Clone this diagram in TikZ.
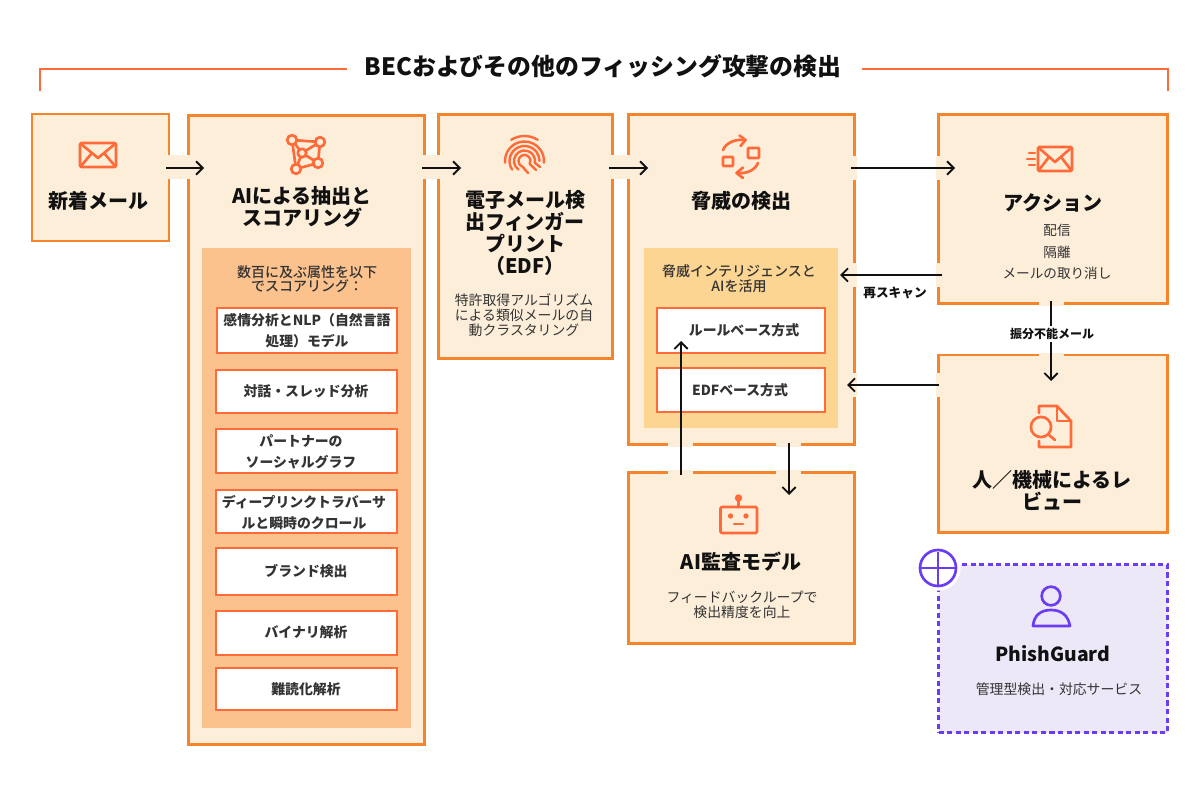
\documentclass[tikz,border=0pt]{standalone}
\usepackage{fontspec}
\setmainfont{Noto Sans CJK JP}
\newfontfamily\medf{Noto Sans CJK JP Medium}
\usetikzlibrary{arrows.meta}
\definecolor{bord}{HTML}{F6842A}
\definecolor{cream}{HTML}{FDEEDA}
\definecolor{peach}{HTML}{FBC28E}
\definecolor{sand}{HTML}{FCD592}
\definecolor{icon}{HTML}{FF6A39}
\definecolor{purp}{HTML}{6A3DF5}
\definecolor{lilac}{HTML}{EDE8F8}
\definecolor{ink}{HTML}{111111}
\definecolor{soft}{HTML}{333333}
\newcommand\hdf{\bfseries\fontsize{15}{16.5}\selectfont}
\newcommand\subf{\fontsize{10.4}{11.2}\selectfont}
\newcommand\itemf{\bfseries\fontsize{10.4}{15.8}\selectfont}
\newcommand\headf{\medf\fontsize{10.5}{11}\selectfont}
\tikzset{
  boxbase/.style={rectangle,inner sep=0pt,outer sep=0pt},
  outerbox/.style={boxbase,draw=bord,fill=cream,line width=1.9pt},
  peachbox/.style={boxbase,fill=peach},
  sandbox/.style={boxbase,fill=sand},
  whitebox/.style={boxbase,draw=icon,fill=white,line width=1.5pt},
  dashbox/.style={boxbase,draw=purp,fill=lilac,line width=1.9pt,dash pattern=on 3.8pt off 2.6pt},
  heading/.style={align=center,inner sep=0pt,text=ink,font=\hdf},
  subtext/.style={align=center,inner sep=0pt,text=soft,font=\subf},
  itemtext/.style={align=center,inner sep=0pt,text=soft,font=\itemf},
  headtext/.style={align=center,inner sep=0pt,text=soft,font=\headf},
  flow/.style={draw=ink,line width=1.35pt,-{Straight Barb[length=5pt,width=10pt,line width=1.35pt]}},
  patch/.style={fill=cream,draw=none},
  ic/.style={draw=icon,line width=2pt,line join=round,line cap=round},
  icf/.style={draw=icon,line width=1.8pt,line join=round,line cap=round},
  icp/.style={draw=purp,line width=2pt,line join=round,line cap=round},
}
\newcommand\bx[6]{\node[#6,minimum width={(#4-#2)*0.75pt},minimum height={(#5-#3)*0.75pt}] (#1) at ({(#2+#4)/2},{(#3+#5)/2}) {};}
\newcommand\tx[5]{\node[#4] (#1) at (#2,#3) {#5};}
\newcommand\pt[4]{\fill[patch] (#1,#2) rectangle (#3,#4);}
\newcommand\arcp[5]{\draw[icf] (#1,#2) ++(#4:#3*0.75pt) arc[start angle=#4,end angle=#5,radius=#3*0.75pt];}
\begin{document}
\begin{tikzpicture}[x=0.75pt,y=-0.75pt]
\useasboundingbox (0,0) rectangle (1200,796);
% title
\node[inner sep=0pt,text=ink,font=\bfseries\fontsize{17.9}{19}\selectfont] (title) at (603,66) {BECおよびその他のフィッシング攻撃の検出};
\coordinate (tl) at (40,91); \coordinate (tlc) at (40,69); \coordinate (tle) at (347,69);
\coordinate (tr) at (1168,91); \coordinate (trc) at (1168,69); \coordinate (tre) at (862,69);
\draw[icon,line width=1.2pt] (tl) -- (tlc) -- (tle);
\draw[icon,line width=1.2pt] (tr) -- (trc) -- (tre);
% boxes
\bx{mail}{32}{114}{169}{241}{outerbox}
\bx{ai}{188.5}{115.5}{424.5}{744.5}{outerbox}
\bx{edf}{438.5}{114.5}{612.5}{358.5}{outerbox}
\bx{threat}{628.5}{114.5}{854.5}{444.5}{outerbox}
\bx{action}{938.5}{114.5}{1167.5}{303.5}{outerbox}
\bx{review}{938.5}{355}{1167.5}{532.5}{outerbox}
\bx{audit}{628.5}{472.5}{854.5}{643.5}{outerbox}
\bx{phish}{938.5}{564.5}{1167.5}{732.5}{dashbox}
% inner panels
\bx{aipanel}{202}{248}{411}{728}{peachbox}
\bx{thpanel}{644}{248}{838}{428}{sandbox}
\bx{w1}{217}{307.5}{397}{352.5}{whitebox}
\bx{w2}{216}{369.5}{397}{412.5}{whitebox}
\bx{w3}{216}{428.5}{397}{472.5}{whitebox}
\bx{w4}{216}{489.5}{397}{532.5}{whitebox}
\bx{w5}{216}{547.5}{397}{594.5}{whitebox}
\bx{w6}{216}{610.5}{397}{654.5}{whitebox}
\bx{w7}{216}{667.5}{397}{709.5}{whitebox}
\bx{r1}{657}{307.5}{825}{352.5}{whitebox}
\bx{r2}{657}{367.5}{825}{411.5}{whitebox}
% patches at arrow crossings
\pt{166}{155}{190}{179}
\pt{422}{155}{441}{179}
\pt{609}{155}{631}{179}
\pt{851}{156}{857}{180}
\pt{936}{156}{941}{180}
\pt{838}{263}{857}{287}
\pt{936}{263}{941}{287}
\pt{838}{373}{857}{397}
\pt{936}{373}{941}{397}
\pt{1039}{302}{1064}{306}
\pt{1039}{353}{1064}{358}
\pt{668}{443}{693}{447}
\pt{668}{470}{693}{474}
\pt{776}{443}{801}{447}
\pt{776}{470}{801}{474}
% connector ends
\coordinate (a1s) at (166,168); \coordinate (a1e) at (204,168);
\coordinate (a2s) at (422,168); \coordinate (a2e) at (461,168);
\coordinate (a3s) at (609,168); \coordinate (a3e) at (648,168);
\coordinate (a4s) at (851,168); \coordinate (a4e) at (955,168);
\coordinate (a5s) at (942,275); \coordinate (a5e) at (840,275);
\coordinate (a6s) at (939,385); \coordinate (a6e) at (847,385);
\coordinate (a7s) at (1051,301); \coordinate (a7e) at (1051,381);
\coordinate (a8s) at (789,443); \coordinate (a8e) at (789,495);
\coordinate (a9s) at (681,475); \coordinate (a9e) at (681,341);
\draw[flow] (a1s) -- (a1e);
\draw[flow] (a2s) -- (a2e);
\draw[flow] (a3s) -- (a3e);
\draw[flow] (a4s) -- (a4e);
\draw[flow] (a5s) -- (a5e);
\draw[flow] (a6s) -- (a6e);
\draw[flow] (a7s) -- (a7e);
\draw[flow] (a8s) -- (a8e);
\draw[flow] (a9s) -- (a9e);
% labels
\node[inner sep=2pt,fill=white,text=ink,font=\bfseries\fontsize{9}{10}\selectfont] (lab2) at (1052,334) {振分不能メール};
\node[inner sep=0pt,text=ink,font=\bfseries\fontsize{9.5}{10}\selectfont] (lab1) at (895,293) {再スキャン};
% texts
\tx{tmail}{98}{201}{heading}{新着メール}
\tx{tai}{302}{207}{heading}{AIによる抽出と\\スコアリング}
\tx{tedf}{525}{233}{heading}{電子メール検\\出フィンガー\\プリント\\（EDF）}
\tx{tedfs}{524}{315}{subtext}{特許取得アルゴリズム\\による類似メールの自\\動クラスタリング}
\tx{tth}{741}{201}{heading}{脅威の検出}
\tx{tthh}{739}{279}{headtext}{脅威インテリジェンスと\\AIを活用}
\tx{tact}{1053}{203}{heading}{アクション}
\tx{tacts}{1057}{252}{subtext,font=\fontsize{10.2}{16.1}\selectfont}{配信\\隔離\\メールの取り消し}
\tx{trev}{1052}{490}{heading}{人／機械によるレ\\ビュー}
\tx{taud}{741}{562}{heading}{AI監査モデル}
\tx{tauds}{742}{605}{subtext}{フィードバックループで\\検出精度を向上}
\tx{tph}{1053}{654}{heading,font=\bfseries\fontsize{14.5}{16}\selectfont}{PhishGuard}
\tx{tphs}{1059}{689}{subtext}{管理型検出・対応サービス}
\tx{tpanel}{307}{279}{headtext}{数百に及ぶ属性を以下\\でスコアリング：}
\tx{tw1}{307}{331}{itemtext}{感情分析とNLP（自然言語\\処理）モデル}
\tx{tw2}{306}{391}{itemtext}{対話・スレッド分析}
\tx{tw3}{301}{452}{itemtext}{パートナーの\\ソーシャルグラフ}
\tx{tw4}{304}{513}{itemtext}{ディープリンクトラバーサ\\ルと瞬時のクロール}
\tx{tw5}{306}{571}{itemtext}{ブランド検出}
\tx{tw6}{306}{632}{itemtext}{バイナリ解析}
\tx{tw7}{306}{689}{itemtext}{難読化解析}
\tx{tr1}{744}{330}{itemtext}{ルールベース方式}
\tx{tr2}{740}{390}{itemtext}{EDFベース方式}
% icon: mail
\draw[ic,rounded corners=1pt] (80,143) rectangle (116,167);
\draw[ic] (81,144) -- (98,158) -- (115,144);
\draw[ic] (81,166) -- (92,153);
\draw[ic] (115,166) -- (104,153);
% icon: network
\draw[ic] (292,140) -- (320,142) -- (318,163) -- (296,169) -- cycle;
\draw[ic] (292,140) -- (302,153) -- (320,142) (302,153) -- (318,163) (302,153) -- (296,169);
\filldraw[ic,fill=cream] (292,140) circle[radius=3.6pt];
\filldraw[ic,fill=cream] (320,142) circle[radius=3.6pt];
\filldraw[ic,fill=cream] (302,153) circle[radius=3.2pt];
\filldraw[ic,fill=cream] (318,163) circle[radius=3.6pt];
\filldraw[ic,fill=cream] (296,169) circle[radius=3.6pt];
% icon: fingerprint
\arcp{524.5}{161}{25}{122}{58}
\arcp{524.5}{161}{19.5}{185}{-5}
\arcp{524.5}{161}{15}{215}{0}
\arcp{524.5}{161}{10.5}{235}{-10}
\arcp{524.5}{161}{6}{250}{-30}
\draw[icf] (522.4,166.6) -- (528,173);
\draw[icf] (529.7,164) -- (536,170);
\draw[icf] (534.8,162.8) -- (540,167);
% icon: cycle
\draw[ic,rounded corners=0.5pt] (723,157) rectangle (733,166);
\draw[ic,rounded corners=0.5pt] (748,148) rectangle (759,158);
\draw[ic] (723,150) .. controls (726,143) and (734,139) .. (745,140);
\draw[ic] (739.5,135.5) -- (745.5,140) -- (740.5,146);
\draw[ic] (758,163) .. controls (755,170) and (747,174) .. (737,173);
\draw[ic] (743,167.5) -- (736.5,173) -- (743,178);
% icon: action
\draw[ic,rounded corners=1pt] (1038,147) rectangle (1072,171);
\draw[ic] (1039,148) -- (1055,162) -- (1071,148);
\draw[ic] (1039,170) -- (1049,157);
\draw[ic] (1071,170) -- (1061,157);
\draw[ic] (1029,153) -- (1035,153) (1027,159) -- (1035,159) (1029,165) -- (1035,165);
% icon: doc search
\draw[ic] (1039,413) -- (1039,406) -- (1057,406) -- (1071,421) -- (1071,447) -- (1039,447) -- (1039,441);
\draw[ic] (1057,406) -- (1057,421) -- (1071,421);
\draw[ic] (1041,427) circle[radius=7.6pt];
\draw[ic] (1049,435) -- (1055,440);
% icon: robot
\draw[ic,rounded corners=1pt] (720.5,507) rectangle (757,533);
\draw[ic] (738.5,507) -- (738.5,499);
\fill[icon] (738.5,498) circle[radius=2.8pt];
\fill[icon] (730.5,516) circle[radius=2pt];
\fill[icon] (746,516) circle[radius=2pt];
\draw[ic] (734,524) -- (743,524);
% icon: person
\draw[icp] (1051,596) circle[radius=7pt];
\draw[icp] (1033,626) .. controls (1034,615) and (1041,610) .. (1051,610) .. controls (1061,610) and (1068,615) .. (1070,626) -- cycle;
% badge
\fill[white] (938,568) circle[radius=17pt];
\draw[purp,line width=2pt] (938,568) circle[radius=13.5pt];
\draw[purp,line width=2pt] (938,552) -- (938,585) (921,568) -- (955,568);
\end{tikzpicture}
\end{document}
